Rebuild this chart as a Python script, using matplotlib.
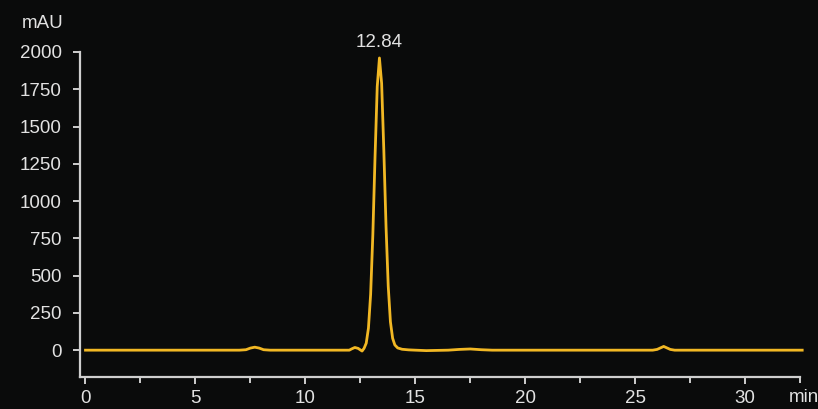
import matplotlib
matplotlib.use("Agg")
import matplotlib.pyplot as plt

plt.rcParams['font.family'] = ['Liberation Sans', 'DejaVu Sans']

# retention time (min) and absorbance (mAU)
time = [0.0, 7.0, 7.3, 7.5, 7.7, 7.9, 8.1, 8.4,
        12.0, 12.1, 12.25, 12.4, 12.5, 12.58,
        12.67, 12.77, 12.87, 12.97, 13.07, 13.17, 13.27, 13.37,
        13.47, 13.57, 13.67, 13.77, 13.87, 13.97, 14.07, 14.2, 14.4, 14.7,
        15.0, 15.5, 16.5, 17.0, 17.5, 18.0, 18.5,
        25.8, 26.0, 26.15, 26.3, 26.45, 26.6, 26.8, 32.6]
mau = [0, 0, 3, 14, 20, 14, 3, 0,
       0, 8, 18, 12, 2, -6,
       12, 47, 148, 375, 774, 1296, 1768, 1960,
       1790, 1340, 830, 430, 190, 80, 35, 15, 6, 2,
       0, -3, 0, 5, 8, 3, 0,
       0, 5, 15, 25, 15, 5, 0, 0]

peak_time = 13.37
peak_label = "12.84"

bg = "#0a0b0b"
fg = "#e2e2e2"
gold = "#f2b824"

fig = plt.figure(figsize=(8.18, 4.09), dpi=100, facecolor=bg)
ax = fig.add_axes([80/818, 1-377/409, 720/818, (377-52)/409])
ax.set_facecolor(bg)

ax.plot(time, mau, color=gold, linewidth=2.0, clip_on=False, solid_joinstyle='round')

ax.set_xlim(-0.25, 32.5)
ax.set_ylim(-180, 2000)
ax.set_yticks([0, 250, 500, 750, 1000, 1250, 1500, 1750, 2000])
ax.set_xticks([0, 5, 10, 15, 20, 25, 30])
ax.set_xticks([2.5, 7.5, 12.5, 17.5, 22.5, 27.5, 32.5], minor=True)

for s in ['top', 'right']:
    ax.spines[s].set_visible(False)
for s in ['left', 'bottom']:
    ax.spines[s].set_color("#cfcfcf")
    ax.spines[s].set_linewidth(1.6)

ax.tick_params(axis='both', which='both', colors="#cfcfcf", labelcolor=fg,
               labelsize=13.5, width=1.4, length=5, direction='out')
ax.tick_params(axis='x', which='minor', length=4)
ax.tick_params(axis='x', pad=4.5)
ax.tick_params(axis='y', pad=8)

ax.text(peak_time, 2010, peak_label, color=fg, fontsize=13.5,
        ha='center', va='bottom', clip_on=False)
fig.text(22/818, 1-23/409, "mAU", color=fg, fontsize=13.5, ha='left', va='center')
fig.text(789/818, 1-398/409, "min", color=fg, fontsize=13.5, ha='left', va='center')

fig.savefig("out.png", dpi=100, facecolor=bg)
